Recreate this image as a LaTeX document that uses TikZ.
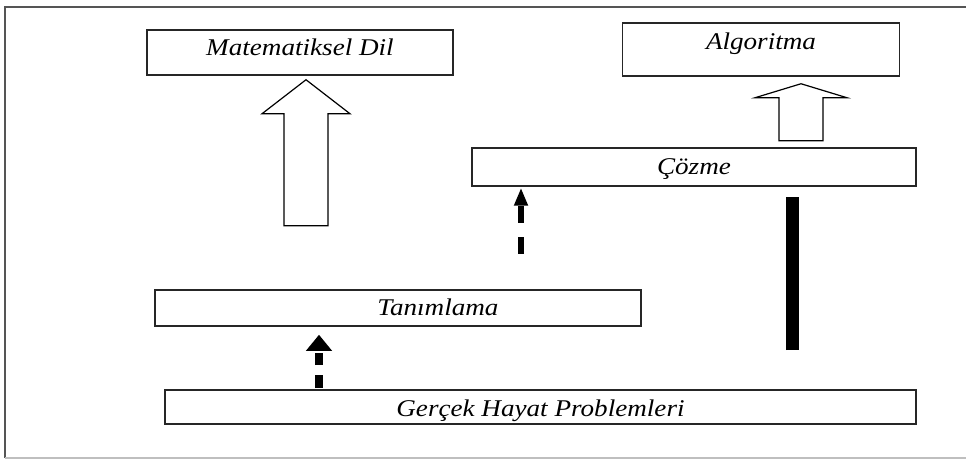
\documentclass[tikz,border=0pt]{standalone}
\usepackage{fontspec}
\newfontfamily\boxfont{Liberation Serif}[FakeStretch=1.13]
\usepackage{tikz}
\usetikzlibrary{arrows.meta,calc,positioning}
\definecolor{framegray}{RGB}{85,85,85}

\begin{document}
\begin{tikzpicture}
              [x=1pt,y=-1pt,
                every node/.style={rectangle,draw=black!85,line width=1.5pt,inner sep=0pt,
                  font=\boxfont\itshape\fontsize{24}{28}\selectfont,text height=16pt,text depth=0pt},
                blockarrow/.style={draw=black,line width=1.2pt,fill=white,line join=miter},
                dasharrow/.style={line width=6pt,-{Triangle[length=18pt,width=13pt]}},
                barline/.style={line width=13pt}]
              \useasboundingbox (0,0) rectangle (966,462);
              \draw[framegray,line width=1.5pt] (966,7) -- (5,7) -- (5,458);
              \draw[black!25,line width=1.5pt] (5,458) -- (966,458);
              \node (mat) at (300,52.5) [minimum width=306pt,minimum height=45pt,text depth=10pt] {Matematiksel Dil};
              \node (alg) at (761,49.5) [minimum width=277pt,minimum height=53pt,text depth=15pt] {Algoritma};
              \node (coz) at (694,167) [minimum width=444pt,minimum height=38pt] {Çözme};
              \node (tan) at (398,308) [minimum width=486pt,minimum height=36pt] {\hspace*{80pt}Tanımlama};
              \node (ger) at (540.5,407) [minimum width=751pt,minimum height=34pt,text height=19pt] {Gerçek Hayat Problemleri};
              % hollow arrows
              \coordinate (t1) at ($(mat.south)+(6,4)$);
              \coordinate (t2) at ($(alg.south)+(40,7)$);
              \draw[blockarrow] (t1) -- ++(44,34) -- ++(-22,0) -- ++(0,112) -- ++(-44,0) -- ++(0,-112) -- ++(-22,0) -- cycle;
              \draw[blockarrow] (t2) -- ++(46,14) -- ++(-24,0) -- ++(0,43) -- ++(-44,0) -- ++(0,-43) -- ++(-24,0) -- cycle;
              % dashed arrows
              \coordinate (d1) at (521,254);
              \coordinate (d2) at (319,388);
              \draw[dasharrow,dash pattern=on 17pt off 14pt] (d1) -- ($(d1 |- coz.south)+(0,1)$);
              \draw[dasharrow,line width=8pt,-{Triangle[length=16pt,width=25pt]},
                dash pattern=on 13pt off 10pt on 12pt off 10pt] (d2) -- ($(d2 |- tan.south)+(0,8)$);
              % solid bar
              \coordinate (b1) at (792.5,197);
              \coordinate (b2) at (792.5,350);
              \draw[barline] (b2) -- (b1);
            \end{tikzpicture}
\end{document}
